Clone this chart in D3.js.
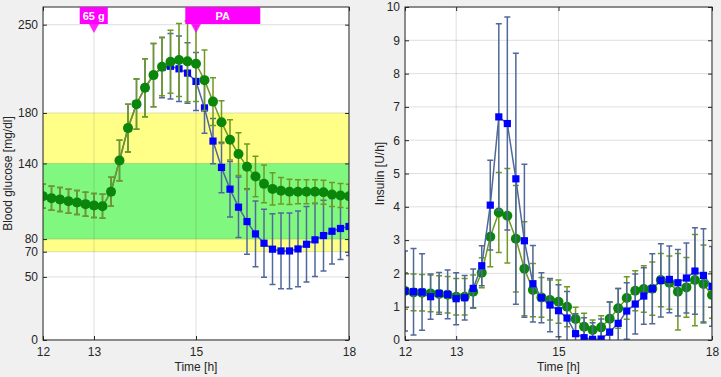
<!DOCTYPE html>
<html>
<head>
<meta charset="utf-8">
<script src="https://cdn.jsdelivr.net/npm/d3@7"></script>
<style>
  body { margin: 0; background: #f0f0f0; }
  svg { display: block; font-family: "Liberation Sans", Arial, sans-serif; }
</style>
</head>
<body>
<svg id="chart" width="721" height="377"></svg>
<script>
// Sample times, every 10 minutes from 12:00 to 18:00
const timeLabels = [
  "12:00", "12:10", "12:20", "12:30", "12:40", "12:50",
  "13:00", "13:10", "13:20", "13:30", "13:40", "13:50",
  "14:00", "14:10", "14:20", "14:30", "14:40", "14:50",
  "15:00", "15:10", "15:20", "15:30", "15:40", "15:50",
  "16:00", "16:10", "16:20", "16:30", "16:40", "16:50",
  "17:00", "17:10", "17:20", "17:30", "17:40", "17:50", "18:00"
];

// Blood glucose [mg/dl], mean and error
const glucoseBlue = [114, 112.4, 111.4, 110, 109, 107.7, 106.6, 106, 117.5, 142.3, 168, 187,
  200, 210, 216, 217, 215, 211.6, 205, 184, 157.7, 136.8, 119.6, 105.3,
  93.9, 84.1, 76.7, 72, 70.6, 70.6, 72.2, 75.9, 79.4, 82.8, 86.2, 88.4, 90];
const glucoseBlueErr = [9.5, 9.5, 9.5, 9.5, 9.5, 9.5, 9.5, 9.5, 11.5, 16, 19, 20,
  23, 25, 24, 26, 26, 24, 23, 20, 18, 20, 22, 24,
  26, 26, 27, 28, 30, 30, 30, 30, 29, 28, 26, 24.5, 23];
const glucoseGreen = [114, 112.4, 111.4, 110, 109, 107.7, 106.6, 106, 117.5, 142.3, 168, 187,
  200, 210, 216.7, 220.6, 222, 220.9, 219, 206, 189, 172.7, 158.7, 147.4,
  137.3, 129.6, 123.8, 119.8, 118.3, 117.5, 117.5, 117.5, 117.5, 117.2, 115.4, 114.6, 114];
const glucoseGreenErr = [9.5, 9.5, 9.5, 9.5, 9.5, 9.5, 9.5, 9.5, 11.5, 16, 19, 20,
  23, 25, 23, 25, 29, 32, 30, 24, 19, 17, 16, 17,
  18, 16, 15, 12.7, 10.5, 10, 9.5, 9.5, 9.5, 9.5, 9.5, 9.5, 9.5];

// Insulin [U/h], mean and error
const insulinBlue = [1.47, 1.45, 1.44, 1.30, 1.40, 1.37, 1.24, 1.27, 1.55, 2.23, 4.05, 6.7,
  6.5, 4.84, 2.98, 1.69, 1.27, 1.05, 0.88, 0.66, 0.19, 0.07, 0.02, 0.03,
  0.24, 0.5, 0.87, 1.08, 1.32, 1.54, 1.79, 1.82, 1.72, 1.86, 2.07, 1.94, 1.61];
const insulinBlueErr = [1.2, 1.3, 1.15, 0.68, 0.63, 0.73, 0.78, 0.67, 0.58, 0.6, 1.35, 2.8,
  3.2, 3.77, 2.3, 1.15, 0.75, 0.8, 0.78, 0.8, 0.6, 0.6, 0.5, 0.6,
  0.9, 1.05, 0.85, 0.9, 0.85, 1.05, 1.1, 1.0, 1.0, 1.05, 1.3, 1.4, 1.2];
const insulinGreen = [1.47, 1.43, 1.42, 1.40, 1.38, 1.36, 1.30, 1.30, 1.45, 2.02, 3.1, 3.83,
  3.73, 3.04, 2.14, 1.5, 1.28, 1.2, 1.15, 1.0, 0.63, 0.4, 0.3, 0.38,
  0.64, 0.95, 1.26, 1.48, 1.53, 1.54, 1.8, 1.72, 1.45, 1.58, 1.8, 1.68, 1.35];
const insulinGreenErr = [0.55, 0.55, 0.55, 0.55, 0.55, 0.55, 0.55, 0.55, 0.5, 0.45, 0.9, 1.2,
  1.42, 1.6, 1.41, 0.8, 0.6, 0.6, 0.65, 0.6, 0.35, 0.4, 0.3, 0.35,
  0.5, 0.6, 0.64, 0.6, 0.7, 0.8, 0.8, 0.8, 1.15, 0.9, 1.37, 1.17, 0.7];

// Axis ticks
const xTicks = [12, 13, 15, 18];
const glucoseTicks = [0, 50, 70, 80, 140, 180, 250];
const insulinTicks = [0, 1, 2, 3, 4, 5, 6, 7, 8, 9, 10];

// Target ranges [mg/dl]
const glucoseBands = [
  { from: 70, to: 180, color: "#ffff88" },
  { from: 80, to: 140, color: "#80f880" }
];

// Events: meal and physical activity
const events = [
  { t: 13, label: "65 g", from: 12.72, to: 13.27 },
  { t: 15, label: "PA", from: 14.79, to: 16.26 }
];

const hours = timeLabels.map(s => {
  const [h, m] = s.split(":");
  return +h + m / 60;
});

const blueStyle = { bar: "#50689a", marker: "#0000ff", shape: "square" };
const greenStyle = { bar: "#6e9a1f", marker: "#0a870a", shape: "circle" };

const svg = d3.select("#chart");

function drawSeries(g, x, y, values, errors, style) {
  const pts = values.map((v, i) => ({ t: hours[i], v: v, e: errors[i] }));
  const cap = 3;

  // error bars
  g.append("g")
    .attr("stroke", style.bar)
    .attr("stroke-width", 1.5)
    .attr("fill", "none")
    .selectAll("path")
    .data(pts)
    .join("path")
    .attr("d", d => {
      const cx = x(d.t), y1 = y(d.v + d.e), y2 = y(d.v - d.e);
      return `M${cx},${y1}V${y2}M${cx - cap},${y1}H${cx + cap}M${cx - cap},${y2}H${cx + cap}`;
    });

  // connecting line
  g.append("path")
    .datum(pts)
    .attr("fill", "none")
    .attr("stroke", style.bar)
    .attr("stroke-width", 1.5)
    .attr("d", d3.line().x(d => x(d.t)).y(d => y(d.v)));

  // markers
  if (style.shape === "square") {
    g.append("g").selectAll("rect")
      .data(pts)
      .join("rect")
      .attr("x", d => x(d.t) - 3.6)
      .attr("y", d => y(d.v) - 3.6)
      .attr("width", 7.2)
      .attr("height", 7.2)
      .attr("fill", style.marker);
  } else {
    g.append("g").selectAll("circle")
      .data(pts)
      .join("circle")
      .attr("cx", d => x(d.t))
      .attr("cy", d => y(d.v))
      .attr("r", 5)
      .attr("fill", style.marker);
  }
}

function drawPanel(cfg) {
  const { left, right, top, bottom } = cfg;
  const x = d3.scaleLinear().domain([12, 18]).range([left, right]);
  const y = d3.scaleLinear().domain(cfg.yDomain).range([bottom, top]);

  svg.append("clipPath").attr("id", cfg.id)
    .append("rect")
    .attr("x", left).attr("y", top)
    .attr("width", right - left).attr("height", bottom - top);

  svg.append("rect")
    .attr("x", left).attr("y", top)
    .attr("width", right - left).attr("height", bottom - top)
    .attr("fill", "#fff");

  const plot = svg.append("g").attr("clip-path", `url(#${cfg.id})`);

  // 1. Bands
  (cfg.bands || []).forEach(b => {
    plot.append("rect")
      .attr("x", left).attr("width", right - left)
      .attr("y", y(b.to)).attr("height", y(b.from) - y(b.to))
      .attr("fill", b.color);
  });

  // 2. Grid
  const grid = plot.append("g")
    .attr("stroke", "#262626")
    .attr("stroke-opacity", 0.15)
    .attr("stroke-width", 1);
  grid.selectAll(".gx").data(xTicks).join("line")
    .attr("x1", d => x(d)).attr("x2", d => x(d))
    .attr("y1", top).attr("y2", bottom);
  grid.selectAll(".gy").data(cfg.yTicks).join("line")
    .attr("y1", d => y(d)).attr("y2", d => y(d))
    .attr("x1", left).attr("x2", right);

  // 3. Series
  cfg.series.forEach(s => drawSeries(plot, x, y, s.values, s.errors, s.style));

  // 4. Axes (ticks inside, box on)
  const styleAxis = (sel, labels) => {
    sel.select(".domain").remove();
    sel.selectAll("line").attr("stroke", "#262626");
    sel.selectAll("text")
      .attr("fill", "#262626")
      .style("font-size", "12px")
      .style("display", labels ? null : "none");
  };
  const fmt = d3.format("d");
  svg.append("g").attr("transform", `translate(0,${bottom})`)
    .call(d3.axisBottom(x).tickValues(xTicks).tickFormat(fmt).tickSize(-4).tickPadding(7))
    .call(sel => styleAxis(sel, true));
  svg.append("g").attr("transform", `translate(0,${top})`)
    .call(d3.axisTop(x).tickValues(xTicks).tickSize(-4))
    .call(sel => styleAxis(sel, false));
  svg.append("g").attr("transform", `translate(${left},0)`)
    .call(d3.axisLeft(y).tickValues(cfg.yTicks).tickFormat(fmt).tickSize(-4).tickPadding(5))
    .call(sel => styleAxis(sel, true));
  svg.append("g").attr("transform", `translate(${right},0)`)
    .call(d3.axisRight(y).tickValues(cfg.yTicks).tickSize(-4))
    .call(sel => styleAxis(sel, false));

  svg.append("rect")
    .attr("x", left).attr("y", top)
    .attr("width", right - left).attr("height", bottom - top)
    .attr("fill", "none")
    .attr("stroke", "#262626")
    .attr("stroke-width", 1);

  // 5. Labels
  svg.append("text")
    .attr("x", (left + right) / 2).attr("y", 371)
    .attr("text-anchor", "middle")
    .attr("fill", "#262626")
    .style("font-size", "12px")
    .text("Time [h]");
  svg.append("text")
    .attr("transform", `translate(${cfg.labelX},${(top + bottom) / 2}) rotate(-90)`)
    .attr("text-anchor", "middle")
    .attr("fill", "#262626")
    .style("font-size", "12px")
    .text(cfg.yLabel);

  return { x, y };
}

const glucosePanel = drawPanel({
  id: "clip-glucose",
  left: 43, right: 349, top: 7, bottom: 340,
  yDomain: [0, 264],
  yTicks: glucoseTicks,
  yLabel: "Blood glucose [mg/dl]",
  labelX: 12,
  bands: glucoseBands,
  series: [
    { values: glucoseBlue, errors: glucoseBlueErr, style: blueStyle },
    { values: glucoseGreen, errors: glucoseGreenErr, style: greenStyle }
  ]
});

drawPanel({
  id: "clip-insulin",
  left: 405, right: 712, top: 7, bottom: 340,
  yDomain: [0, 10],
  yTicks: insulinTicks,
  yLabel: "Insulin [U/h]",
  labelX: 384,
  series: [
    { values: insulinGreen, errors: insulinGreenErr, style: greenStyle },
    { values: insulinBlue, errors: insulinBlueErr, style: blueStyle }
  ]
});

// Event markers on the glucose panel
const gx = glucosePanel.x;
const evG = svg.append("g");
events.forEach(ev => {
  const cx = gx(ev.t);
  evG.append("rect")
    .attr("x", gx(ev.from)).attr("y", 7)
    .attr("width", gx(ev.to) - gx(ev.from)).attr("height", 17)
    .attr("fill", "#ff00ff");
  evG.append("path")
    .attr("d", `M${cx - 5},24L${cx + 5},24L${cx},33Z`)
    .attr("fill", "#ff00ff")
    .attr("fill-opacity", 0.85);
  evG.append("text")
    .attr("x", (gx(ev.from) + gx(ev.to)) / 2).attr("y", 20)
    .attr("text-anchor", "middle")
    .attr("fill", "#fff")
    .style("font-size", "11px")
    .style("font-weight", "bold")
    .text(ev.label);
});
</script>
</body>
</html>
